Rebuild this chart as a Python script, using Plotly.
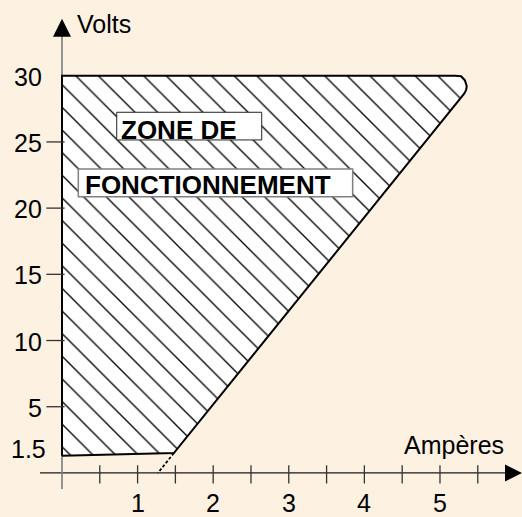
import plotly.graph_objects as go

# ---- data ----
zone_I = [0, 0, 5.20, 5.28, 5.33, 5.354, 5.345, 5.32, 1.48, 0]       # A
zone_V = [1.3, 30, 30, 29.97, 29.65, 29.2, 28.9, 28.64, 1.5, 1.3]    # V
ext_I = [1.48, 1.27]
ext_V = [1.5, 0.0]
x_minor_ticks = [0.5, 1.0, 1.5, 2.0, 2.5, 3.0, 3.5, 4.0, 4.5, 5.0, 5.5]
x_labels = [1, 2, 3, 4, 5]
y_ticks = [5, 10, 15, 20, 25]
y_labels = [1.5, 5, 10, 15, 20, 25, 30]
y_label_text = ["1.5", "5", "10", "15", "20", "25", "30"]

BG = "rgb(253,241,225)"
FONT = "Liberation Sans, Arial, sans-serif"
X_RANGE = [-0.820, 6.085]
Y_RANGE = [-3.33, 35.72]
PX_X = 522 / (X_RANGE[1] - X_RANGE[0])
PX_Y = 517 / (Y_RANGE[1] - Y_RANGE[0])

fig = go.Figure()

# axes lines
fig.add_trace(go.Scatter(x=[-22 / PX_X, X_RANGE[1] - 10 / PX_X], y=[0, 0], mode="lines",
                         line=dict(color="#1a1a1a", width=1.3), hoverinfo="skip", cliponaxis=False))
fig.add_trace(go.Scatter(x=[0, 0], y=[-16 / PX_Y, 33.0], mode="lines",
                         line=dict(color="#7a7a7a", width=1.6), hoverinfo="skip", cliponaxis=False))

# operating zone
fig.add_trace(go.Scatter(x=zone_I, y=zone_V, mode="lines", fill="toself",
                         line=dict(color="black", width=2),
                         fillcolor="white",
                         fillpattern=dict(shape="\\", size=16, solidity=0.085,
                                          fgcolor="#000000", bgcolor="white", fillmode="replace"),
                         hoverinfo="skip"))

# dashed extension
fig.add_trace(go.Scatter(x=ext_I, y=ext_V, mode="lines",
                         line=dict(color="black", width=1.8, dash="3px,2px"), hoverinfo="skip"))

# ticks
fig.add_trace(go.Scatter(x=x_minor_ticks, y=[-1.5 / PX_Y] * len(x_minor_ticks), mode="markers",
                         marker=dict(symbol="line-ns", size=13, line=dict(width=1.3, color="#333")),
                         hoverinfo="skip", cliponaxis=False))
fig.add_trace(go.Scatter(x=[-6.5 / PX_X] * len(y_ticks), y=y_ticks, mode="markers",
                         marker=dict(symbol="line-ew", size=13, line=dict(width=1.3, color="#333")),
                         hoverinfo="skip", cliponaxis=False))

# arrow heads
fig.add_trace(go.Scatter(x=[0], y=[34.30], mode="markers",
                         marker=dict(symbol="arrow-up", size=18, color="black", line=dict(width=0)),
                         hoverinfo="skip", cliponaxis=False))
fig.add_trace(go.Scatter(x=[X_RANGE[1]], y=[0], mode="markers",
                         marker=dict(symbol="arrow-right", size=17, color="black", line=dict(width=0)),
                         hoverinfo="skip", cliponaxis=False))

annotations = []
for v, t in zip(y_labels, y_label_text):
    annotations.append(dict(x=0, y=v, text=t, showarrow=False, xanchor="right", yanchor="middle",
                            xshift=-16 if v == 1.5 else -20, yshift=4 if v == 1.5 else -1,
                            borderpad=0, borderwidth=0,
                            font=dict(family=FONT, size=25, color="black")))
for v in x_labels:
    annotations.append(dict(x=v, y=0, text=str(v), showarrow=False, xanchor="center", yanchor="middle",
                            yshift=-30, borderpad=0, borderwidth=0,
                            font=dict(family=FONT, size=25, color="black")))
annotations.append(dict(x=0, y=33.9, text="Volts", showarrow=False, xanchor="left", yanchor="middle",
                        xshift=15, borderpad=0, borderwidth=0,
                        font=dict(family=FONT, size=25, color="black")))
annotations.append(dict(x=4.52, y=2.08, text="Ampères", showarrow=False, xanchor="left", yanchor="middle",
                        borderpad=0, borderwidth=0,
                        font=dict(family=FONT, size=25, color="black")))
annotations.append(dict(x=0.776, y=25.87, text="<b>ZONE DE</b>", showarrow=False, xanchor="left",
                        yanchor="middle", borderpad=0, borderwidth=0,
                        font=dict(family=FONT, size=26, color="black")))
annotations.append(dict(x=0.304, y=21.72, text="<b>FONCTIONNEMENT</b>", showarrow=False, xanchor="left",
                        yanchor="middle", borderpad=0, borderwidth=0,
                        font=dict(family=FONT, size=26, color="black")))

shapes = [
    dict(type="rect", xref="x", yref="y", x0=0.724, x1=2.642, y0=25.15, y1=27.24,
         fillcolor="white", line=dict(color="#222", width=1), layer="above"),
    dict(type="rect", xref="x", yref="y", x0=0.216, x1=3.845, y0=20.86, y1=22.95,
         fillcolor="white", line=dict(color="#808080", width=1.5), layer="above"),
]

fig.update_layout(
    width=522, height=517,
    margin=dict(l=0, r=0, t=0, b=0),
    paper_bgcolor=BG, plot_bgcolor=BG,
    showlegend=False,
    xaxis=dict(range=X_RANGE, visible=False, fixedrange=True),
    yaxis=dict(range=Y_RANGE, visible=False, fixedrange=True),
    annotations=annotations,
    shapes=shapes,
)

fig.write_html("out.html", config={"displayModeBar": False},
               post_script="document.body.style.margin='0';document.body.style.overflow='hidden';")
